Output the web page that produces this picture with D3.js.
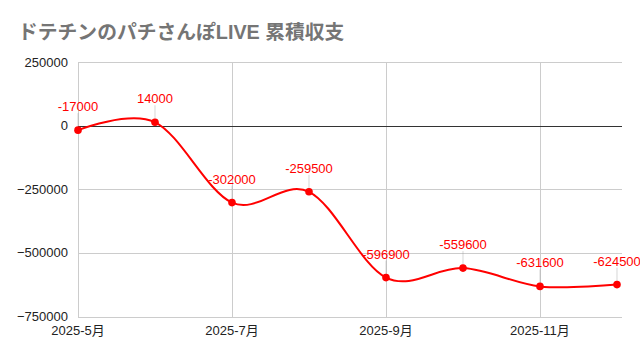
<!DOCTYPE html>
<html><head><meta charset="utf-8">
<script src="https://cdn.jsdelivr.net/npm/d3@7"></script>
<style>body{margin:0;background:#fff}svg{display:block;font-family:Arial,"Liberation Sans","Noto Sans CJK JP",sans-serif}</style>
</head><body><svg id="c" width="640" height="356"></svg>
<script>
const months = ["2025-5月","2025-6月","2025-7月","2025-8月","2025-9月","2025-10月","2025-11月","2025-12月"];
const values = [-17000, 14000, -302000, -259500, -596900, -559600, -631600, -624500];
const labels = ["-17000","14000","-302000","-259500","-596900","-559600","-631600","-624500"];
const yTicks = [250000, 0, -250000, -500000, -750000];
const xTickIdx = [0, 2, 4, 6];
const title = "ドテチンのパチさんぽLIVE 累積収支";

const svg = d3.select("#c");
const x = d3.scaleLinear().domain([0, 7.065]).range([78, 622]);
const y = d3.scaleLinear().domain([-750000, 250000]).range([316.5, 62.3]);

svg.append("text").attr("x", 18).attr("y", 39).attr("font-size", 19.8).attr("font-weight", "bold")
  .attr("fill", "#757575").text(title);

// horizontal grid
svg.append("g").selectAll("line").data(yTicks.filter(d => d !== 0)).join("line")
  .attr("x1", 78).attr("x2", 622).attr("y1", d => Math.round(y(d)) + 0.5).attr("y2", d => Math.round(y(d)) + 0.5)
  .attr("stroke", "#cccccc");
// vertical grid
svg.append("g").selectAll("line").data(xTickIdx).join("line")
  .attr("x1", d => Math.round(x(d)) + 0.5).attr("x2", d => Math.round(x(d)) + 0.5)
  .attr("y1", 62).attr("y2", 317).attr("stroke", "#cccccc");

// y tick labels
svg.append("g").selectAll("text").data(yTicks).join("text")
  .attr("x", 68).attr("y", d => y(d) + 4.5).attr("text-anchor", "end").attr("font-size", 13)
  .attr("fill", "#222").text(d => d3.format("d")(d));
// x tick labels
svg.append("g").selectAll("text").data(xTickIdx).join("text")
  .attr("x", d => x(d)).attr("y", 335).attr("text-anchor", "middle").attr("font-size", 13)
  .attr("fill", "#222").text(d => months[d]);

// zero baseline
svg.append("line").attr("x1", 78).attr("x2", 622).attr("y1", Math.round(y(0)) + 0.5).attr("y2", Math.round(y(0)) + 0.5)
  .attr("stroke", "#333");

const pts = values.map((v, i) => [x(i), y(v)]);

// annotation stems
svg.append("g").selectAll("line").data(pts).join("line")
  .attr("x1", d => d[0]).attr("x2", d => d[0]).attr("y1", d => d[1]).attr("y2", d => d[1] - 17)
  .attr("stroke", "#999").attr("stroke-opacity", 0.4);

svg.append("path").datum(pts)
  .attr("d", d3.line().curve(d3.curveCardinal.tension(0)))
  .attr("fill", "none").attr("stroke", "#ff0000").attr("stroke-width", 2);

svg.append("g").selectAll("circle").data(pts).join("circle")
  .attr("cx", d => d[0]).attr("cy", d => d[1]).attr("r", 3.8).attr("fill", "#ff0000");

svg.append("g").selectAll("text").data(pts).join("text")
  .attr("x", d => d[0]).attr("y", d => d[1] - 19).attr("text-anchor", "middle").attr("font-size", 13)
  .attr("fill", "#ff0000").text((d, i) => labels[i]);
</script></body></html>
